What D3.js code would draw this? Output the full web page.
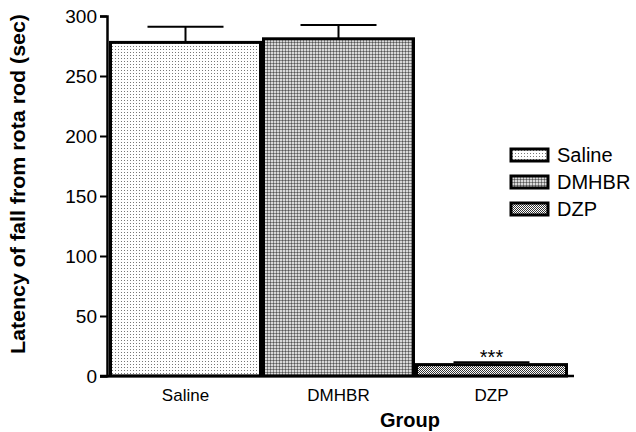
<!DOCTYPE html>
<html>
<head>
<meta charset="utf-8">
<script src="https://cdn.jsdelivr.net/npm/d3@7"></script>
<style>
  body { margin: 0; background: #fff; }
  text { font-family: "Liberation Sans", Arial, sans-serif; }
</style>
</head>
<body>
<svg id="chart"></svg>
<script>
// data
const groups = ['Saline', 'DMHBR', 'DZP'];
const means = [278, 281, 9.5];
const sems = [13, 11.5, 2];
const yTicks = [0, 50, 100, 150, 200, 250, 300];
const patternIds = ['pat-saline', 'pat-dmhbr', 'pat-dzp'];

const width = 636;
const height = 432;

const svg = d3.select('#chart')
  .attr('width', width)
  .attr('height', height);

// fill patterns
const defs = svg.append('defs');

const p1 = defs.append('pattern')
  .attr('id', 'pat-saline')
  .attr('patternUnits', 'userSpaceOnUse')
  .attr('width', 3).attr('height', 3);
p1.append('rect').attr('width', 3).attr('height', 3).attr('fill', '#fff');
p1.append('rect').attr('x', 1).attr('y', 1).attr('width', 1).attr('height', 1).attr('fill', '#777');

const p2 = defs.append('pattern')
  .attr('id', 'pat-dmhbr')
  .attr('patternUnits', 'userSpaceOnUse')
  .attr('width', 3).attr('height', 3);
p2.append('rect').attr('width', 3).attr('height', 3).attr('fill', '#d8d8d8');
p2.append('rect').attr('width', 3).attr('height', 1).attr('fill', '#888');
p2.append('rect').attr('width', 1).attr('height', 3).attr('fill', '#888');
p2.append('rect').attr('width', 1).attr('height', 1).attr('fill', '#555');

const p3 = defs.append('pattern')
  .attr('id', 'pat-dzp')
  .attr('patternUnits', 'userSpaceOnUse')
  .attr('width', 2).attr('height', 2);
p3.append('rect').attr('width', 2).attr('height', 2).attr('fill', '#fff');
p3.append('rect').attr('width', 1).attr('height', 1).attr('fill', '#333');
p3.append('rect').attr('x', 1).attr('y', 1).attr('width', 1).attr('height', 1).attr('fill', '#333');

const x = d3.scaleBand()
  .domain(groups)
  .range([109, 568])
  .padding(0);

const y = d3.scaleLinear()
  .domain([0, 300])
  .range([376, 16]);

// bars
svg.selectAll('.bar')
  .data(groups)
  .enter()
  .append('rect')
  .attr('class', 'bar')
  .attr('x', d => x(d) + 1.5)
  .attr('y', (d, i) => y(means[i]))
  .attr('width', x.bandwidth() - 3)
  .attr('height', (d, i) => y(0) - y(means[i]))
  .attr('fill', (d, i) => `url(#${patternIds[i]})`)
  .attr('stroke', '#000')
  .attr('stroke-width', 3);

// error bars (upper only)
const capHalf = 38;
groups.forEach((g, i) => {
  const cx = x(g) + x.bandwidth() / 2;
  const top = y(means[i] + sems[i]);
  svg.append('line')
    .attr('x1', cx).attr('x2', cx)
    .attr('y1', y(means[i])).attr('y2', top)
    .attr('stroke', '#000').attr('stroke-width', 2);
  svg.append('line')
    .attr('x1', cx - capHalf).attr('x2', cx + capHalf)
    .attr('y1', top).attr('y2', top)
    .attr('stroke', '#000').attr('stroke-width', 2);
});

// significance stars on DZP
svg.append('text')
  .attr('x', x('DZP') + x.bandwidth() / 2)
  .attr('y', y(means[2] + sems[2]) + 2)
  .attr('text-anchor', 'middle')
  .attr('font-size', '20px')
  .text('***');

// y axis
const yAxis = svg.append('g')
  .attr('transform', 'translate(107,0)')
  .call(d3.axisLeft(y).tickValues(yTicks).tickSize(7).tickPadding(3));
yAxis.select('.domain').attr('stroke-width', 2.5);
yAxis.selectAll('.tick line').attr('stroke-width', 2);
yAxis.selectAll('.tick text')
  .attr('font-size', '19px')
  .attr('font-family', '"Liberation Sans", Arial, sans-serif')
  .attr('fill', '#000');

// x baseline
svg.append('line')
  .attr('x1', 100).attr('x2', 574)
  .attr('y1', y(0)).attr('y2', y(0))
  .attr('stroke', '#000').attr('stroke-width', 2.5);

// category labels
svg.selectAll('.cat')
  .data(groups)
  .enter()
  .append('text')
  .attr('class', 'cat')
  .attr('x', d => x(d) + x.bandwidth() / 2)
  .attr('y', 401)
  .attr('text-anchor', 'middle')
  .attr('font-size', '17px')
  .text(d => d);

// axis titles
svg.append('text')
  .attr('x', 410)
  .attr('y', 427)
  .attr('text-anchor', 'middle')
  .attr('font-size', '20px')
  .attr('font-weight', 'bold')
  .text('Group');

svg.append('text')
  .attr('transform', 'rotate(-90)')
  .attr('x', -184)
  .attr('y', 25)
  .attr('text-anchor', 'middle')
  .attr('font-size', '20px')
  .attr('font-weight', 'bold')
  .attr('textLength', 340)
  .attr('lengthAdjust', 'spacingAndGlyphs')
  .text('Latency of fall from rota rod (sec)');

// legend
const legend = svg.append('g').attr('transform', 'translate(511,149)');
groups.forEach((g, i) => {
  const row = legend.append('g').attr('transform', `translate(0, ${i * 27})`);
  row.append('rect')
    .attr('width', 37).attr('height', 12)
    .attr('fill', `url(#${patternIds[i]})`)
    .attr('stroke', '#000').attr('stroke-width', 3);
  row.append('text')
    .attr('x', 46).attr('y', 13)
    .attr('font-size', '20px')
    .text(g);
});
</script>
</body>
</html>
